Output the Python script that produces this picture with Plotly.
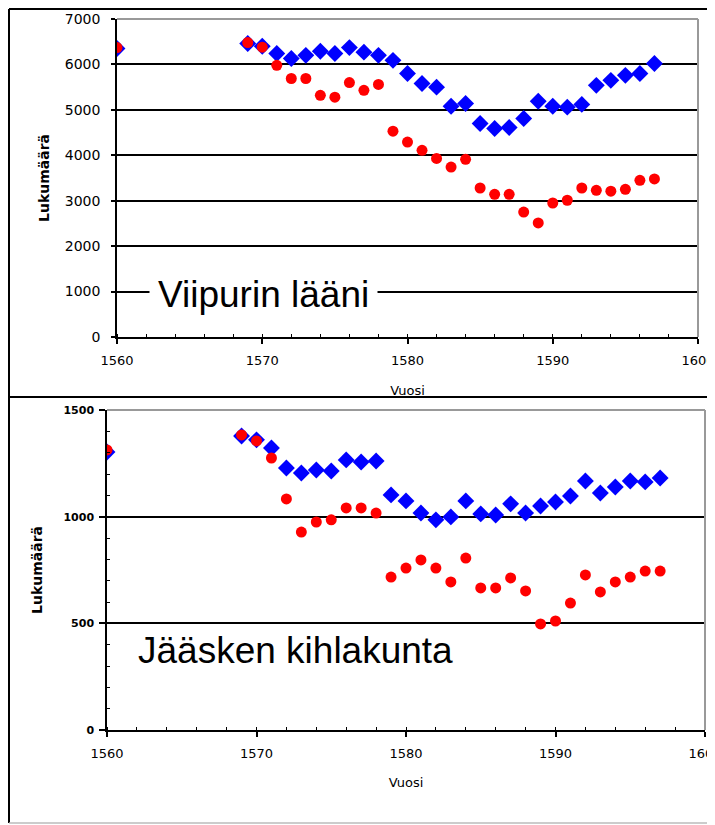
import plotly.graph_objects as go

# The page body adds an 8px margin, so the figure is drawn 8px in from the corner.
OFF = 8
W, H = 715 - OFF, 825 - OFF

years = [1560] + list(range(1569, 1598))

# Viipurin lääni (top panel)
top_blue = [6350, 6460, 6400, 6240, 6130, 6200, 6290, 6240, 6370, 6270, 6200, 6090,
            5800, 5580, 5500, 5080, 5140, 4700, 4590, 4610, 4810, 5190, 5080, 5060,
            5120, 5540, 5650, 5760, 5800, 6020]
top_red = [6370, 6480, 6380, 5980, 5690, 5690, 5320, 5280, 5600, 5430, 5560, 4530,
           4290, 4110, 3930, 3740, 3910, 3280, 3140, 3140, 2750, 2510, 2950, 3010,
           3280, 3230, 3210, 3250, 3450, 3480]

# Jääsken kihlakunta (bottom panel)
bot_blue = [1303, 1378, 1360, 1322, 1228, 1205, 1219, 1214, 1266, 1256, 1261, 1102,
            1074, 1017, 985, 999, 1074, 1013, 1008, 1060, 1017, 1050, 1069, 1097,
            1167, 1111, 1139, 1167, 1163, 1181]
bot_red = [1313, 1383, 1355, 1275, 1083, 928, 975, 985, 1041, 1041, 1017, 717,
           759, 797, 759, 694, 806, 666, 666, 713, 652, 497, 511, 595,
           727, 647, 694, 717, 745, 745]

x_ticks = [1560, 1570, 1580, 1590, 1600]
top_y_ticks = [0, 1000, 2000, 3000, 4000, 5000, 6000, 7000]
bot_y_ticks = [0, 500, 1000, 1500]

x_title = "Vuosi"
y_title = "Lukumäärä"
top_label = "Viipurin lääni"
bot_label = "Jääsken kihlakunta"

BLUE = "#0000FF"
RED = "#FF0000"


def px(x):
    return (x - OFF) / W


def py(y):
    return 1 - (y - OFF) / H


fig = go.Figure()

fig.add_trace(go.Scatter(x=years, y=top_blue, mode="markers", xaxis="x", yaxis="y",
                         marker=dict(symbol="diamond", size=13, color=BLUE), showlegend=False))
fig.add_trace(go.Scatter(x=years, y=top_red, mode="markers", xaxis="x", yaxis="y",
                         marker=dict(symbol="circle", size=11, color=RED), showlegend=False))
fig.add_trace(go.Scatter(x=years, y=bot_blue, mode="markers", xaxis="x2", yaxis="y2",
                         marker=dict(symbol="diamond", size=13, color=BLUE), showlegend=False))
fig.add_trace(go.Scatter(x=years, y=bot_red, mode="markers", xaxis="x2", yaxis="y2",
                         marker=dict(symbol="circle", size=11, color=RED), showlegend=False))

tickfont = dict(family="DejaVu Sans", size=13, color="black")
titlefont = dict(family="DejaVu Sans", size=14, color="black")
xtitlefont = dict(family="DejaVu Sans", size=13, color="black")

common_x = dict(range=[1560, 1600], tickmode="array", tickvals=x_ticks,
                ticks="outside", ticklen=5, tickwidth=1.5, tickcolor="black",
                showline=True, linecolor="black", linewidth=1.5,
                showgrid=False, zeroline=False, tickfont=tickfont, automargin=False,
                ticklabeloverflow="allow",
                minor=dict(dtick=2, ticks="inside", ticklen=3, tickwidth=1.2, tickcolor="black", showgrid=False),
                ticklabelstandoff=6)

fig.update_layout(
    width=W, height=H,
    margin=dict(l=0, r=0, t=0, b=0),
    paper_bgcolor="white", plot_bgcolor="white",
    xaxis=dict(domain=[px(117), px(698)], anchor="y",
               title=dict(text=x_title, font=xtitlefont, standoff=19),
               **common_x),
    yaxis=dict(domain=[py(337), py(19)], anchor="x", range=[0, 7000], automargin=False,
               tickmode="array", tickvals=top_y_ticks,
               ticks="outside", ticklen=4, tickwidth=1.5, tickcolor="black",
               showline=True, linecolor="black", linewidth=1.5,
               showgrid=True, gridcolor="black", gridwidth=1.5, zeroline=False,
               tickfont=dict(family="DejaVu Sans", size=14, color="black"),
               ticklabelstandoff=8,
               title=dict(text="<b>" + y_title + "</b>", font=titlefont, standoff=12)),
    xaxis2=dict(domain=[px(107), px(705)], anchor="y2",
                title=dict(text=x_title, font=xtitlefont, standoff=18),
                **common_x),
    yaxis2=dict(domain=[py(730), py(410)], anchor="x2", range=[0, 1500], automargin=False,
                tickmode="array", tickvals=bot_y_ticks,
                ticks="outside", ticklen=6, tickwidth=1.5, tickcolor="black",
                showline=True, linecolor="black", linewidth=1.5,
                showgrid=True, gridcolor="black", gridwidth=1.5, zeroline=False,
                tickfont=dict(family="DejaVu Sans", size=11, color="black", weight="bold"),
                ticklabelstandoff=3,
                minor=dict(dtick=100, ticks="inside", ticklen=3, tickwidth=1.2, tickcolor="black", showgrid=False),
                title=dict(text="<b>" + y_title + "</b>", font=titlefont, standoff=18)),
)

shapes = []
# plot-area grey top/right borders
for (xa, xb, ya, yb) in [(117, 698, 19, 337), (107, 705, 410, 730)]:
    shapes.append(dict(type="line", xref="paper", yref="paper", x0=px(xa), x1=px(xb), y0=py(ya), y1=py(ya),
                       line=dict(color="#999999", width=2), layer="above"))
    shapes.append(dict(type="line", xref="paper", yref="paper", x0=px(xb), x1=px(xb), y0=py(ya), y1=py(yb),
                       line=dict(color="#999999", width=2), layer="above"))
# panel frames
frame = dict(color="black", width=2)
shapes += [
    dict(type="line", xref="paper", yref="paper", x0=px(9), x1=1.0, y0=py(9), y1=py(9), line=frame),
    dict(type="line", xref="paper", yref="paper", x0=px(9), x1=px(9), y0=py(9), y1=py(397), line=frame),
    dict(type="line", xref="paper", yref="paper", x0=px(9), x1=1.0, y0=py(397), y1=py(397), line=frame),
    dict(type="line", xref="paper", yref="paper", x0=px(9), x1=px(9), y0=py(397), y1=py(823), line=frame),
    dict(type="line", xref="paper", yref="paper", x0=px(9), x1=1.0, y0=py(823), y1=py(823),
         line=dict(color="#bbbbbb", width=1.5)),
]
fig.update_layout(shapes=shapes)

fig.add_annotation(text=top_label, xref="paper", yref="paper", x=px(263), y=py(294),
                   showarrow=False, bgcolor="white", borderpad=8,
                   font=dict(family="Liberation Sans", size=37, color="black"))
fig.add_annotation(text=bot_label, xref="paper", yref="paper", x=px(295), y=py(673),
                   showarrow=False,
                   font=dict(family="Liberation Sans", size=37, color="black"))

fig.write_html("out.html")
